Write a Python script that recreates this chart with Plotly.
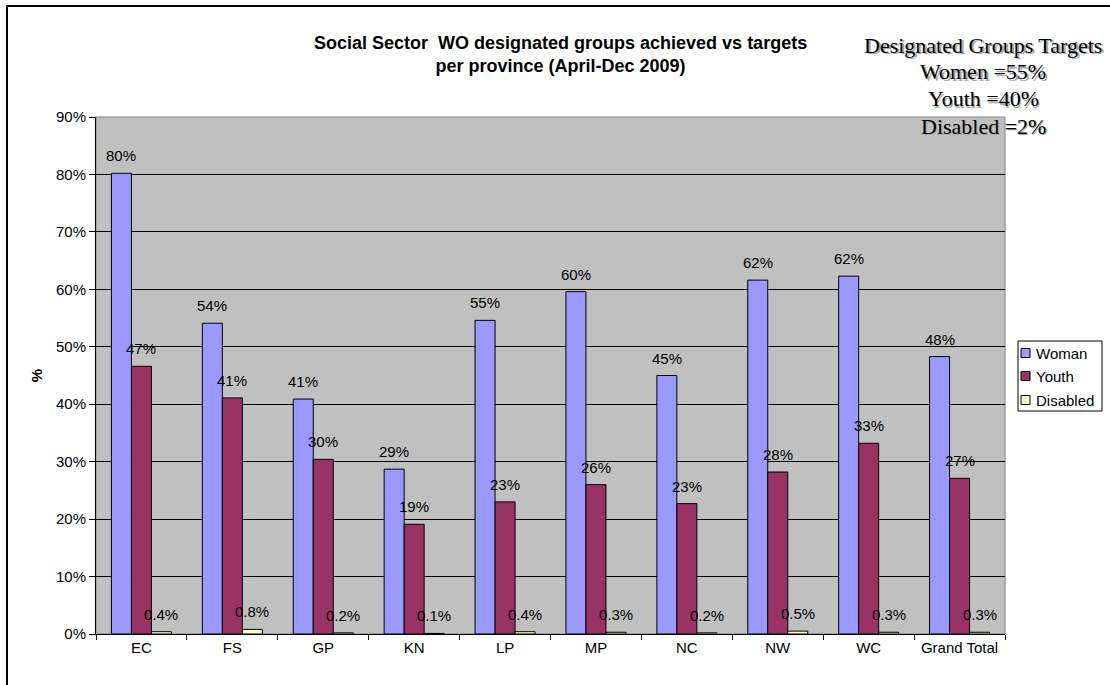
import plotly.graph_objects as go

categories = ["EC", "FS", "GP", "KN", "LP", "MP", "NC", "NW", "WC", "Grand Total"]
woman = [80.2, 54.1, 40.9, 28.7, 54.6, 59.6, 45.0, 61.6, 62.3, 48.3]
youth = [46.6, 41.1, 30.4, 19.1, 23.0, 26.0, 22.7, 28.2, 33.2, 27.1]
disabled = [0.4, 0.8, 0.2, 0.1, 0.4, 0.3, 0.2, 0.5, 0.3, 0.3]
y_ticks = [0, 10, 20, 30, 40, 50, 60, 70, 80, 90]
series_names = ["Woman", "Youth", "Disabled"]
series_colors = ["#9999FF", "#993366", "#FFFFCC"]
target_lines = ["Designated Groups Targets", "Women =55%", "Youth =40%", "Disabled =2%"]

W, H = 1110, 685
L, R, T, B = 96, 105, 117, 51
PW = W - L - R
PH = H - T - B
BARGAP = 0.34
FONT = "Liberation Sans, Arial"

def px_x(px):
    return (px - L) / PW

def px_y(py):
    return (H - B - py) / PH

series_vals = [woman, youth, disabled]
series_fmt = ["{:.0f}%", "{:.0f}%", "{:.1f}%"]

fig = go.Figure()
for name, vals, color in zip(series_names, series_vals, series_colors):
    fig.add_trace(go.Bar(
        name=name, x=categories, y=vals,
        marker=dict(color=color, line=dict(color="black", width=1)),
    ))

bar_px = PW / len(categories) * (1 - BARGAP) / len(series_names)
annotations = []
for i, (vals, fmt) in enumerate(zip(series_vals, series_fmt)):
    shift = (i - 1) * bar_px
    for c, v in zip(categories, vals):
        annotations.append(dict(
            x=c, y=v, xref="x", yref="y", text=fmt.format(v), showarrow=False,
            xshift=shift, yshift=7, yanchor="bottom",
            font=dict(family=FONT, size=15, color="black"),
        ))

# title
annotations.append(dict(
    x=px_x(560), y=px_y(55), xref="paper", yref="paper", showarrow=False,
    text="<b>Social Sector  WO designated groups achieved vs targets<br>per province (April-Dec 2009)</b>",
    font=dict(family=FONT, size=18, color="black"),
    xanchor="center", yanchor="middle",
))

# targets text (with soft shadow)
line_y = [45, 72, 99, 126]
for txt, ly in zip(target_lines, line_y):
    for dx, col in ((1.5, "#A8A8A8"), (0, "black")):
        annotations.append(dict(
            x=px_x(983), y=px_y(ly), xref="paper", yref="paper", showarrow=False,
            text=txt, xanchor="center", yanchor="middle", xshift=dx, yshift=-dx,
            font=dict(family="Liberation Serif, Times New Roman", size=22, color=col),
        ))

shapes = [
    dict(type="rect", xref="paper", yref="paper", x0=0, x1=1, y0=0, y1=1,
         line=dict(color="#808080", width=1), layer="below"),
    dict(type="rect", xref="paper", yref="paper",
         x0=px_x(7), x1=px_x(1300), y0=px_y(900), y1=px_y(6),
         line=dict(color="black", width=2), fillcolor="rgba(0,0,0,0)"),
]

# legend box (custom, so it does not push the margins)
shapes.append(dict(type="rect", xref="paper", yref="paper",
                   x0=px_x(1018), x1=px_x(1102), y0=px_y(411), y1=px_y(341),
                   line=dict(color="black", width=1), fillcolor="white"))
leg_y = [353, 376, 400]
for name, color, ly in zip(series_names, series_colors, leg_y):
    shapes.append(dict(type="rect", xref="paper", yref="paper",
                       x0=px_x(1021), x1=px_x(1030), y0=px_y(ly + 4.5), y1=px_y(ly - 4.5),
                       line=dict(color="black", width=1), fillcolor=color))
    annotations.append(dict(
        x=px_x(1034), y=px_y(ly), xref="paper", yref="paper", showarrow=False,
        text=name, xanchor="left", yanchor="middle",
        font=dict(family=FONT, size=15, color="black"),
    ))

fig.update_layout(
    width=W, height=H,
    margin=dict(l=L, r=R, t=T, b=B, pad=0),
    paper_bgcolor="white", plot_bgcolor="#C0C0C0",
    barmode="group", bargap=BARGAP, bargroupgap=0,
    font=dict(family=FONT, size=15, color="black"),
    showlegend=False,
    annotations=annotations,
    shapes=shapes,
)
fig.update_xaxes(
    type="category", showline=True, linecolor="black", linewidth=1,
    ticks="outside", tickson="boundaries", ticklen=5, tickcolor="black",
    showgrid=False, tickfont=dict(size=15),
)
fig.update_yaxes(
    range=[0, 90], tickvals=y_ticks, ticktext=[f"{v}%" for v in y_ticks],
    showline=True, linecolor="black", linewidth=1,
    ticks="outside", ticklen=6, tickcolor="black",
    showgrid=True, gridcolor="black", gridwidth=1, zeroline=False,
    title=dict(text="<b>%</b>", font=dict(size=15), standoff=9),
    tickfont=dict(size=15),
)

fig.write_html("out.html")
